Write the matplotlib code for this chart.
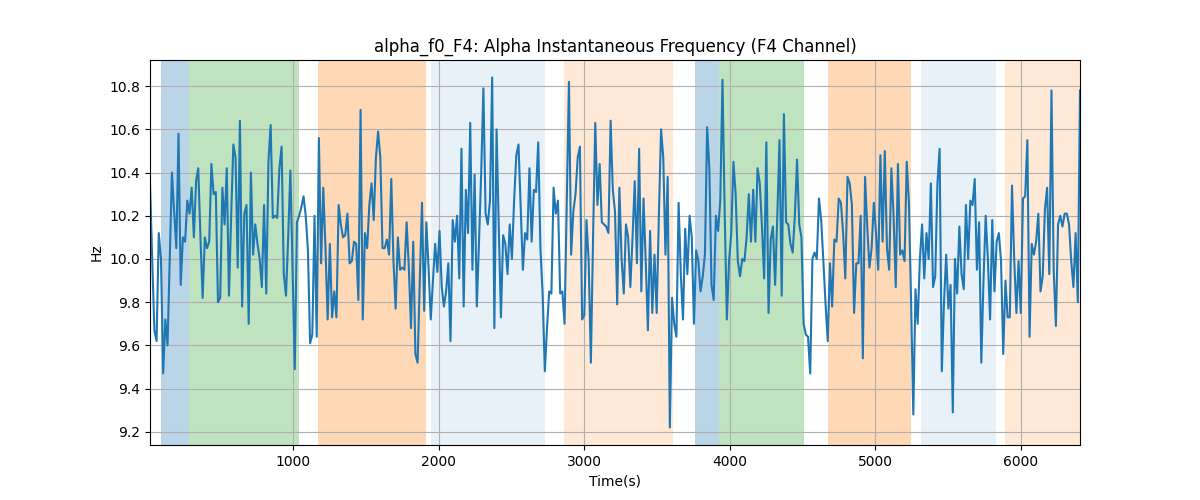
import numpy as np
import matplotlib
matplotlib.use('Agg')
import matplotlib.pyplot as plt

# alpha instantaneous frequency (Hz)
freq_hz = [
    10.35, 10.0, 9.67, 9.62, 10.12, 10.0, 9.47, 9.72, 9.6, 10.0, 10.4, 10.22, 10.05, 10.58, 9.88,
    10.1, 10.08, 10.27, 10.21, 10.33, 10.1, 10.36, 10.42, 10.1, 9.82, 10.1, 10.05, 10.08, 10.44,
    10.3, 10.31, 9.8, 9.82, 10.33,
    10.16, 10.42, 9.83, 10.2, 10.53, 10.47, 9.96, 10.64, 9.78, 10.21, 10.25, 9.7, 10.4, 10.02,
    10.16, 10.07, 10.0, 9.87, 10.25, 9.84, 10.45, 10.62, 10.19, 10.2, 10.19, 10.42, 10.52, 9.93,
    9.83, 10.1, 10.41, 9.95, 9.49, 10.17, 10.2,
    10.24, 10.29, 10.2, 10.04, 9.61, 9.65, 10.2, 9.64, 10.56, 9.98, 10.33, 10.05, 9.72, 10.07,
    9.73, 9.85, 9.73, 10.25, 10.16, 10.1, 10.11, 10.21, 9.98, 9.99, 10.08, 10.07, 9.81, 10.69,
    9.72, 10.12, 10.05, 10.25, 10.35, 10.18, 10.47, 10.59,
    10.47, 10.05, 10.05, 10.09, 10.02, 10.37, 9.99, 9.77, 10.1, 9.95, 9.96, 9.95, 10.17, 9.96,
    9.68, 10.08, 9.56, 9.52, 9.9, 10.26, 9.76, 10.17, 9.96, 9.72, 9.9, 10.07, 9.94, 10.13, 9.87,
    9.78, 9.85, 9.98, 9.62, 10.18, 10.08, 10.2, 9.91,
    10.51, 9.78, 10.32, 10.12, 10.63, 9.95, 10.39, 9.78, 10.08, 10.4, 10.79, 10.21, 10.16, 10.27,
    10.84, 9.68, 10.6, 10.15, 9.73, 10.11, 10.07, 9.93, 10.16, 10.0, 10.27, 10.48, 10.53, 10.24,
    9.95, 10.12, 10.09, 10.42, 10.08, 10.32, 10.31, 10.54,
    10.05, 9.84, 9.48, 9.68, 9.85, 9.84, 10.33, 10.21, 10.27, 9.84, 9.85, 9.7, 10.25, 10.82,
    10.02, 10.22, 10.3, 10.47, 10.52, 9.72, 9.74, 10.18, 9.99, 9.52, 10.1, 10.63, 10.25, 10.44,
    10.17, 10.16, 10.15, 10.12, 10.64, 10.32, 10.22,
    9.79, 10.33, 10.0, 9.84, 10.16, 10.1, 9.87, 10.1, 10.36, 9.98, 10.51, 9.85, 10.28, 9.99,
    9.67, 10.13, 9.75, 10.02, 9.75, 10.2, 10.6, 10.47, 10.02, 10.38, 9.22, 9.82, 9.7, 9.64,
    10.26, 9.93, 9.72, 10.14, 9.93, 10.2, 10.1, 9.7,
    10.04, 9.99, 9.85, 9.92, 10.02, 10.61, 10.42, 9.88, 9.81, 10.2, 10.13, 10.27, 10.83, 10.22,
    9.72, 9.99, 10.12, 10.45, 10.3, 9.99, 9.92, 10.0, 9.99, 10.1, 10.3, 10.08, 10.32, 10.08,
    10.42, 10.35, 10.15, 9.91, 10.54, 9.75, 10.09, 10.15,
    9.88, 10.2, 10.55, 9.83, 10.67, 10.17, 10.16, 10.07, 10.03, 10.2, 10.46, 10.16, 10.1, 9.7,
    9.65, 9.64, 9.47, 10.0, 10.03, 10.0, 10.28, 10.18, 9.99, 9.79, 9.62, 9.98, 9.78, 10.09,
    10.08, 10.28, 10.26, 10.12, 9.91, 10.38, 10.35, 10.25,
    9.75, 9.98, 9.98, 10.2, 9.54, 10.38, 10.15, 9.96, 10.05, 10.26, 10.12, 9.95, 10.48, 10.08,
    10.5, 10.05, 9.95, 10.42, 10.2, 9.87, 10.44, 10.02, 10.04, 9.99, 10.45, 10.26, 9.8, 9.28,
    9.86, 9.7, 10.0, 10.16, 9.91, 10.12, 10.0,
    10.35, 9.87, 9.92, 10.35, 10.51, 9.48, 9.8, 10.02, 9.77, 9.88, 9.29, 10.0, 9.84, 10.15,
    9.93, 9.86, 10.25, 10.0, 10.27, 10.25, 10.37, 9.95, 10.17, 9.52, 9.9, 10.2, 10.0, 9.72,
    10.18, 9.85, 10.08, 10.12, 9.99, 9.56, 9.9, 9.73,
    9.73, 10.34, 10.0, 9.75, 9.99, 9.75, 10.28, 10.29, 10.55, 9.64, 10.07, 10.02, 10.08, 10.21,
    9.85, 9.92, 10.23, 10.33, 9.93, 10.78, 9.95, 9.69, 10.16, 10.2, 10.15, 10.21, 10.21, 10.16,
    9.99, 9.87, 10.12, 9.8, 10.78,
]
t_start, t_end = 16, 6405

# shaded segments: (start, end, colour, alpha)
seg_start = [93, 286, 1172, 1947, 2861, 3761, 3926, 4675, 5313, 5890]
seg_end = [286, 1041, 1914, 2730, 3610, 3926, 4510, 5245, 5828, 6420]
seg_color = ['tab:blue', 'tab:green', 'tab:orange', 'tab:blue', 'tab:orange',
             'tab:blue', 'tab:green', 'tab:orange', 'tab:blue', 'tab:orange']
seg_alpha = [0.3, 0.3, 0.3, 0.1, 0.17, 0.3, 0.3, 0.3, 0.1, 0.17]

freq = np.array(freq_hz)
t = np.linspace(t_start, t_end, len(freq))

fig, ax = plt.subplots(figsize=(12, 5), dpi=100)
for s, e, c, a in zip(seg_start, seg_end, seg_color, seg_alpha):
    ax.axvspan(s, e, color=c, alpha=a, lw=0)

ax.plot(t, freq, color='tab:blue', linewidth=1.5)
ax.set_xlim(t[0], t[-1])
ax.grid(True)
ax.set_title('alpha_f0_F4: Alpha Instantaneous Frequency (F4 Channel)')
ax.set_xlabel('Time(s)')
ax.set_ylabel('Hz')

fig.savefig('out.png')
